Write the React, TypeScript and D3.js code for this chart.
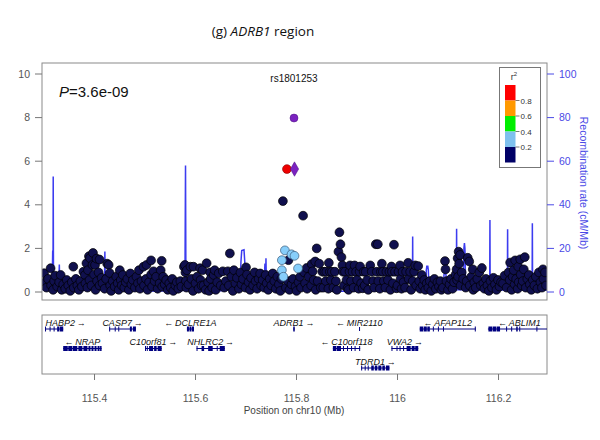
import React from 'react';
import * as d3 from 'd3';

const xDomain: [number, number] = [115.296, 116.296];
const leftTicks = [0, 2, 4, 6, 8, 10];
const rightTicks = [0, 20, 40, 60, 80, 100];
const xTicks = [115.4, 115.6, 115.8, 116.0, 116.2];
const xTickLabels = ['115.4', '115.6', '115.8', '116', '116.2'];

const navySnps: [number, number][] = [
  [115.300,0.86],[115.302,0.45],[115.305,0.2],[115.308,0.6],[115.313,1.09],[115.314,0.3],[115.318,0.1],[115.320,0.5],[115.322,0.75],[115.326,0.25],[115.330,0.45],[115.333,0.78],[115.335,0.1],
  [115.338,0.35],[115.342,0.15],[115.345,0.55],[115.348,0.3],[115.352,0.05],[115.355,0.45],[115.358,1.16],[115.359,0.2],[115.363,0.6],[115.366,0.3],[115.369,0.1],[115.372,0.5],[115.375,0.25],
  [115.378,0.93],[115.381,0.78],[115.382,0.4],[115.384,1.32],[115.386,0.2],[115.387,1.0],[115.389,1.64],[115.390,0.55],[115.391,1.55],[115.394,0.3],[115.397,1.79],[115.396,1.24],[115.399,0.8],[115.401,1.24],[115.402,0.1],[115.404,1.53],[115.405,0.5],[115.408,0.9],[115.410,1.49],[115.410,0.3],[115.414,0.65],
  [115.416,0.4],[115.420,0.15],[115.423,0.6],[115.425,1.3],[115.428,1.24],[115.430,0.87],[115.431,0.3],[115.433,0.05],[115.436,0.5],[115.440,0.25],[115.443,0.7],[115.446,0.4],[115.448,0.1],[115.450,1.0],[115.452,0.55],[115.454,0.3],
  [115.456,0.78],[115.459,0.2],[115.462,0.45],[115.465,0.6],[115.468,0.1],[115.471,0.85],[115.473,0.35],[115.476,0.55],[115.480,0.2],[115.483,0.7],[115.486,0.4],[115.488,1.0],[115.490,0.15],[115.493,0.5],
  [115.497,1.16],[115.498,0.3],[115.503,1.24],[115.502,0.6],[115.505,0.1],[115.508,0.45],[115.512,1.45],[115.512,0.8],[115.514,0.25],[115.517,0.95],[115.519,0.5],[115.522,0.7],[115.525,0.15],[115.529,0.4],[115.531,1.0],[115.533,1.43],[115.534,0.25],
  [115.536,0.7],[115.539,0.35],[115.542,0.55],[115.545,0.1],[115.548,0.4],[115.551,0.2],[115.554,0.6],[115.556,0.05],[115.560,0.3],[115.563,0.45],[115.566,0.15],[115.570,0.5],[115.572,0.25],
  [115.577,1.16],[115.579,1.24],[115.580,0.9],[115.581,0.5],[115.582,0.2],[115.583,1.0],[115.586,0.35],[115.590,1.16],[115.592,0.6],[115.595,0.05],[115.596,1.16],[115.600,0.4],[115.603,0.7],[115.606,0.15],[115.609,1.09],[115.610,0.55],[115.612,0.3],
  [115.614,1.0],[115.616,0.3],[115.620,0.1],[115.622,1.32],[115.625,0.45],[115.627,0.05],[115.629,0.9],[115.630,0.6],[115.633,0.2],[115.636,0.78],[115.638,1.0],[115.640,0.1],[115.643,0.45],[115.646,0.86],[115.650,0.3],
  [115.654,0.95],[115.657,0.2],[115.660,0.5],[115.668,1.77],[115.664,0.95],[115.666,0.3],[115.671,0.7],[115.674,0.05],[115.676,1.0],[115.679,0.4],[115.682,0.65],[115.686,0.15],[115.689,0.89],[115.691,0.35],
  [115.694,0.6],[115.700,1.13],[115.699,0.2],[115.702,0.8],[115.705,0.45],[115.708,0.1],[115.710,0.65],[115.714,0.3],[115.717,0.9],[115.719,0.5],[115.722,0.15],[115.725,0.6],[115.728,0.85],[115.730,0.3],
  [115.733,0.55],[115.736,0.2],[115.739,0.78],[115.741,0.4],[115.744,0.1],[115.747,0.6],[115.750,0.3],[115.753,0.85],[115.756,0.5],[115.759,0.15],[115.762,0.7],[115.765,0.35],[115.768,0.05],[115.770,0.6],
  [115.773,4.17],
  [115.779,0.2],[115.783,0.5],[115.784,1.46],[115.786,0.1],[115.790,0.35],[115.793,0.6],[115.798,0.25],[115.800,0.05],[115.804,0.45],[115.807,0.7],[115.809,0.2],
  [115.813,3.5],[115.815,0.9],[115.817,0.4],[115.820,1.1],[115.821,0.15],[115.824,0.7],[115.830,1.28],[115.829,0.3],[115.832,0.95],[115.834,0.55],[115.837,1.4],[115.838,0.1],[115.840,2.0],[115.842,0.5],[115.845,1.3],[115.848,0.2],
  [115.851,0.93],[115.853,0.2],[115.855,0.93],[115.858,0.5],[115.859,0.93],[115.864,1.34],[115.863,0.15],[115.866,0.93],[115.868,0.55],[115.870,0.93],[115.873,0.2],[115.876,0.93],[115.878,0.5],[115.880,0.1],[115.883,1.85],[115.885,2.74],[115.887,2.19],[115.889,1.6],[115.891,1.22],
  [115.892,0.93],[115.894,0.3],[115.896,0.93],[115.899,0.55],[115.901,0.17],[115.903,0.1],[115.905,0.93],[115.906,1.22],[115.908,0.5],[115.911,0.93],[115.913,0.2],[115.915,1.22],[115.918,0.93],[115.920,0.55],[115.923,0.15],[115.925,0.93],[115.926,1.17],[115.928,0.4],
  [115.931,0.17],[115.933,0.93],[115.935,0.3],[115.937,0.93],[115.940,0.55],[115.942,0.1],[115.946,1.22],[115.949,0.93],[115.952,0.5],[115.954,0.2],[115.957,2.19],[115.959,0.93],[115.961,2.19],[115.962,0.5],[115.965,0.15],[115.967,0.93],[115.969,1.3],
  [115.971,0.93],[115.973,0.5],[115.976,0.2],[115.978,0.93],[115.981,0.55],[115.984,0.93],[115.986,0.1],[115.988,1.17],[115.989,0.93],[115.991,0.4],[115.993,2.17],[115.995,0.93],[115.998,0.17],[116.000,0.3],[116.002,0.93],[116.005,1.22],[116.006,0.6],[116.008,0.15],
  [116.010,0.93],[116.012,0.45],[116.015,0.2],[116.017,0.93],[116.021,1.34],[116.022,0.6],[116.025,0.93],[116.027,0.1],[116.030,0.5],[116.033,0.93],[116.035,1.22],[116.037,0.3],[116.041,1.19],[116.043,0.5],[116.045,0.15],[116.048,0.78],
  [116.050,0.3],[116.053,0.55],[116.055,0.1],[116.058,0.4],[116.061,0.2],[116.064,0.5],[116.067,0.05],[116.070,0.35],[116.073,0.6],[116.076,0.15],[116.079,0.45],[116.082,0.25],[116.085,0.5],[116.087,0.1],
  [116.090,0.2],[116.094,1.42],[116.095,1.04],[116.097,0.5],[116.100,0.1],[116.103,0.35],[116.106,0.6],[116.109,0.15],[116.112,0.45],[116.115,0.8],[116.117,1.04],[116.118,0.55],[116.119,1.55],[116.120,0.7],[116.121,1.85],[116.122,1.3],[116.124,1.7],[116.125,0.3],[116.127,0.9],
  [116.130,0.6],[116.139,1.57],[116.142,1.4],[116.135,0.2],[116.137,0.5],[116.143,0.3],[116.146,0.7],[116.149,1.04],[116.150,0.1],[116.152,0.45],[116.155,0.2],[116.158,0.6],[116.162,0.9],[116.165,0.3],[116.167,1.1],
  [116.170,0.4],[116.172,0.15],[116.175,0.6],[116.178,0.3],[116.181,0.05],[116.184,0.5],[116.187,0.2],[116.190,0.65],[116.193,0.35],[116.196,0.1],[116.199,0.55],[116.202,0.25],[116.205,0.45],
  [116.209,0.4],[116.212,0.75],[116.216,0.2],[116.220,0.9],[116.222,0.55],[116.223,1.35],[116.226,0.1],[116.228,0.7],[116.230,1.0],[116.233,1.45],[116.232,0.35],[116.235,0.6],[116.238,0.15],[116.239,1.16],[116.240,0.45],[116.243,1.5],[116.244,0.8],[116.246,0.3],
  [116.248,0.5],[116.250,1.04],[116.252,1.6],[116.254,0.2],[116.257,0.6],[116.260,0.78],[116.262,0.35],[116.265,0.1],[116.268,0.55],[116.271,0.3],[116.274,0.7],[116.277,0.15],[116.280,0.9],[116.283,0.45],[116.286,0.2],[116.288,1.04],[116.289,0.6],[116.292,0.9],[116.294,0.3],
];

const lightBlueSnps: [number, number][] = [
  [115.777,1.91],[115.771,1.46],[115.771,1.0],[115.774,0.70],[115.790,1.73],[115.796,1.66],[115.803,1.08],
];
const redSnps: [number, number][] = [[115.781, 5.64]];
const leadSnp: [number, number] = [115.795, 7.98];
const leadProxy: [number, number] = [115.796, 5.64];
const leadName = 'rs1801253';
const pLabel = '3.6e-09';

const recomb: [number, number][] = [
  [115.296,1.2],[115.305,0.8],[115.312,1.0],[115.316,1.5],[115.3172,19],[115.3178,1.5],[115.3182,53],[115.3188,2],[115.322,1.2],[115.329,1.0],[115.3303,12.6],[115.3313,1.0],
  [115.340,0.8],[115.350,1.5],[115.360,1.0],[115.3635,8],[115.3645,1.0],[115.375,0.6],[115.390,1.2],[115.405,0.8],[115.4195,1.0],[115.4205,18.6],[115.4215,1.0],
  [115.440,0.5],[115.460,0.8],[115.480,0.5],[115.500,0.7],[115.520,0.4],[115.540,0.6],[115.560,0.5],[115.579,0.8],[115.5802,58],[115.581,2],[115.590,1.5],
  [115.610,1.0],[115.630,0.8],[115.650,0.6],[115.670,0.9],[115.688,1.0],[115.690,14],[115.6915,19],[115.696,19.4],[115.6975,14],[115.699,1.0],[115.715,0.8],
  [115.735,1.0],[115.7375,13],[115.7385,1.0],[115.7395,15.5],[115.7405,1.0],[115.755,0.8],[115.770,1.2],[115.790,1.0],[115.810,0.8],[115.832,1.0],[115.834,5.5],
  [115.836,2],[115.838,5.5],[115.840,1.0],[115.850,0.5],[115.880,0.3],[115.910,0.5],[115.940,0.4],[115.970,0.5],[116.000,0.8],[116.020,0.6],[116.0295,1.0],
  [116.030,25.5],[116.0305,1.0],[116.045,0.8],[116.0555,1.0],[116.057,10],[116.058,11.8],[116.060,11.8],[116.061,10],[116.0625,1.0],[116.080,0.8],[116.0905,1.0],
  [116.092,8],[116.094,9],[116.096,8],[116.0975,1.0],[116.110,0.9],[116.1165,1.0],[116.117,29],[116.1175,1.0],[116.130,1.0],[116.1315,20],[116.1325,22.5],
  [116.1335,20],[116.135,1.0],[116.160,0.8],[116.1825,1.0],[116.183,33],[116.1835,1.0],[116.200,0.8],[116.2175,1.0],[116.218,28.8],[116.2185,1.0],[116.240,0.9],
  [116.2665,1.0],[116.267,31.5],[116.2675,1.0],[116.296,0.8],
];

type Gene = { name: string; start: number; end: number; strand: 1 | -1; row: number; exons: [number, number][] };
const genes: Gene[] = [
  { name: 'HABP2', start: 115.302, end: 115.338, strand: 1, row: 0, exons: [[115.302,115.3035],[115.311,115.3125],[115.319,115.3205],[115.326,115.330],[115.331,115.338]] },
  { name: 'NRAP', start: 115.338, end: 115.414, strand: -1, row: 1, exons: [[115.338,115.347],[115.348,115.356],[115.357,115.366],[115.368,115.376],[115.378,115.386],[115.388,115.392],[115.394,115.398],[115.400,115.404],[115.406,115.410],[115.411,115.414]] },
  { name: 'CASP7', start: 115.429, end: 115.482, strand: 1, row: 0, exons: [[115.429,115.4305],[115.440,115.4415],[115.447,115.4485],[115.470,115.474],[115.476,115.482]] },
  { name: 'C10orf81', start: 115.500, end: 115.533, strand: 1, row: 1, exons: [[115.500,115.5015],[115.5035,115.505],[115.508,115.516],[115.518,115.523],[115.525,115.533]] },
  { name: 'DCLRE1A', start: 115.583, end: 115.597, strand: -1, row: 0, exons: [[115.583,115.587],[115.588,115.592],[115.593,115.597]] },
  { name: 'NHLRC2', start: 115.602, end: 115.658, strand: 1, row: 1, exons: [[115.602,115.6035],[115.612,115.617],[115.625,115.634],[115.642,115.6435],[115.648,115.658]] },
  { name: 'ADRB1', start: 115.7935, end: 115.7965, strand: 1, row: 0, exons: [[115.7935,115.7965]] },
  { name: 'MIR2110', start: 115.9238, end: 115.9245, strand: -1, row: 0, exons: [[115.9238,115.9245]] },
  { name: 'C10orf118', start: 115.872, end: 115.926, strand: -1, row: 1, exons: [[115.872,115.879],[115.880,115.888],[115.892,115.8935],[115.900,115.9015],[115.908,115.9095],[115.915,115.9165],[115.924,115.926]] },
  { name: 'TDRD1', start: 115.928, end: 115.984, strand: 1, row: 2, exons: [[115.928,115.9295],[115.935,115.9365],[115.941,115.9425],[115.948,115.953],[115.955,115.960],[115.962,115.968],[115.970,115.975],[115.977,115.984]] },
  { name: 'VWA2', start: 115.988, end: 116.041, strand: 1, row: 1, exons: [[115.988,115.9895],[115.998,115.9995],[116.004,116.0055],[116.011,116.0125],[116.018,116.026],[116.028,116.034],[116.035,116.041]] },
  { name: 'AFAP1L2', start: 116.044, end: 116.155, strand: -1, row: 0, exons: [[116.044,116.051],[116.052,116.058],[116.059,116.064],[116.070,116.0715],[116.080,116.0815],[116.090,116.0915],[116.153,116.155]] },
  { name: 'ABLIM1', start: 116.179, end: 116.54, strand: -1, row: 0, exons: [[116.180,116.188],[116.189,116.196],[116.197,116.203],[116.215,116.217],[116.225,116.227],[116.235,116.238],[116.241,116.243],[116.275,116.277]] },
];

const legendColors = ['#FF0000', '#FF9900', '#00EE00', '#7EC0EE', '#000066'];
const legendBreaks = ['0.8', '0.6', '0.4', '0.2'];

const NAVY = '#10104e';
const LIGHTBLUE = '#87CEFA';
const RED = '#EE0000';
const PURPLE = '#7B22C0';
const RECOMB = '#3c3cf0';
const AXIS_BLUE = '#4a4ae6';
const SANS = '"Liberation Sans", Arial, Helvetica, sans-serif';

export default function App() {
  const L = 42, R = 547;
  const x = d3.scaleLinear().domain(xDomain).range([L, R]);
  const y = d3.scaleLinear().domain([0, 10]).range([292, 74]);
  const yr = d3.scaleLinear().domain([0, 100]).range([292, 74]);
  const plotTop = 63, plotBottom = 300;
  const geneTop = 315, geneBottom = 374;
  const rowY = [329, 348.5, 368];

  const recombLine = d3.line<[number, number]>().x(d => x(d[0])).y(d => yr(d[1]))(recomb) || '';

  const geneEls = genes.map((g, i) => {
    const gy = rowY[g.row];
    const x0 = Math.max(L, x(g.start));
    const x1 = Math.min(R, x(g.end));
    const label = g.strand === 1 ? `${g.name}\u2009\u2192` : `\u2190\u2009${g.name}`;
    const estW = label.length * 5.9;
    let cx = (x(g.start) + x(g.end)) / 2;
    if (cx - estW / 2 < L + 3) cx = L + 3 + estW / 2;
    if (cx + estW / 2 > R - 4) cx = R - 4 - estW / 2;
    return (
      <g key={i}>
        <line x1={x0} x2={x1} y1={gy} y2={gy} stroke="#000080" strokeWidth={1} />
        {g.exons.map((e, j) => {
          const ex0 = Math.max(L, x(e[0]));
          const ex1 = Math.min(R, x(e[1]));
          if (ex1 <= ex0 - 1) return null;
          const h = g.name === 'MIR2110' ? 4 : 5;
          return <rect key={j} x={ex0} y={gy - h / 2} width={Math.max(1, ex1 - ex0)} height={h} fill="#000080" />;
        })}
        <text x={cx} y={gy - 3.5} textAnchor="middle" fontSize={9} fontStyle="italic" fontFamily={SANS} fill="#111">{label}</text>
      </g>
    );
  });

  const legX = 505, legTop = 85, blockH = 15.5, blockW = 10.5;

  return (
    <svg width={600} height={440} style={{ position: 'absolute', left: 0, top: 0, background: '#fff' }} fontFamily={SANS}>
      <rect x={0} y={0} width={600} height={440} fill="#fff" />
      <text x={263} y={36} textAnchor="middle" fontSize={13.5} fontFamily='"Open Sans", sans-serif' fill="#111">
        (g) <tspan fontStyle="italic">ADRB1</tspan> region
      </text>

      <defs>
        <clipPath id="plotclip"><rect x={L} y={plotTop} width={R - L} height={plotBottom - plotTop} /></clipPath>
      </defs>
      <path d={recombLine} fill="none" stroke={RECOMB} strokeWidth={1.5} clipPath="url(#plotclip)" />

      <g clipPath="url(#plotclip)">
        {navySnps.map((d, i) => (
          <circle key={'n' + i} cx={x(d[0])} cy={y(d[1])} r={4.4} fill={NAVY} stroke="#000" strokeWidth={0.7} />
        ))}
        {lightBlueSnps.map((d, i) => (
          <circle key={'l' + i} cx={x(d[0])} cy={y(d[1])} r={4.4} fill={LIGHTBLUE} stroke="#3a5a7a" strokeWidth={0.7} />
        ))}
        {redSnps.map((d, i) => (
          <circle key={'r' + i} cx={x(d[0])} cy={y(d[1])} r={4.4} fill={RED} stroke="#8a0000" strokeWidth={0.6} />
        ))}
        <path d={d3.symbol().type(d3.symbolDiamond).size(60)() || ''} transform={`translate(${x(leadProxy[0])},${y(leadProxy[1])})`} fill={PURPLE} stroke="#4a1080" strokeWidth={0.5} />
        <circle cx={x(leadSnp[0])} cy={y(leadSnp[1])} r={4} fill={PURPLE} stroke="#4a1080" strokeWidth={0.5} />
      </g>

      <rect x={L} y={plotTop} width={R - L} height={plotBottom - plotTop} fill="none" stroke="#8a8a8a" strokeWidth={1} />

      {leftTicks.map(t => (
        <g key={'lt' + t}>
          <line x1={35} x2={L} y1={y(t)} y2={y(t)} stroke="#777" strokeWidth={1} />
          <text x={30} y={y(t) + 3.6} textAnchor="end" fontSize={10.5} fill="#555">{t}</text>
        </g>
      ))}
      {rightTicks.map(t => (
        <g key={'rt' + t}>
          <line x1={R} x2={R + 7} y1={yr(t)} y2={yr(t)} stroke={AXIS_BLUE} strokeWidth={1} />
          <text x={559} y={yr(t) + 3.6} textAnchor="start" fontSize={10.5} fill={AXIS_BLUE}>{t}</text>
        </g>
      ))}
      <text transform="translate(580,183) rotate(90)" textAnchor="middle" fontSize={10.5} fill={AXIS_BLUE}>Recombination rate (cM/Mb)</text>

      <text x={59} y={97} fontSize={15} fill="#111">
        <tspan fontStyle="italic">P</tspan>={pLabel}
      </text>
      <text x={x(leadSnp[0])} y={82} textAnchor="middle" fontSize={10} fill="#111">{leadName}</text>

      <rect x={499.5} y={67.5} width={41} height={100} fill="#fff" stroke="#777" strokeWidth={1} />
      <text x={514} y={80} textAnchor="middle" fontSize={9} fill="#333">r<tspan dy={-4} fontSize={6}>2</tspan></text>
      {legendColors.map((c, i) => (
        <rect key={'lc' + i} x={legX} y={legTop + i * blockH} width={blockW} height={blockH} fill={c} />
      ))}
      {legendBreaks.map((b, i) => {
        const by = legTop + (i + 1) * blockH;
        return (
          <g key={'lb' + i}>
            <line x1={legX + blockW} x2={legX + blockW + 4} y1={by} y2={by} stroke="#555" strokeWidth={0.8} />
            <text x={legX + blockW + 5} y={by + 3} fontSize={8} fill="#333">{b}</text>
          </g>
        );
      })}

      <rect x={L} y={geneTop} width={R - L} height={geneBottom - geneTop} fill="none" stroke="#8a8a8a" strokeWidth={1} />
      <defs>
        <clipPath id="geneclip"><rect x={L} y={geneTop} width={R - L} height={geneBottom - geneTop} /></clipPath>
      </defs>
      <g clipPath="url(#geneclip)">{geneEls}</g>

      {xTicks.map((t, i) => (
        <g key={'xt' + i}>
          <line x1={x(t)} x2={x(t)} y1={geneBottom} y2={geneBottom + 6} stroke="#777" strokeWidth={1} />
          <text x={x(t)} y={402} textAnchor="middle" fontSize={10.5} fill="#555">{xTickLabels[i]}</text>
        </g>
      ))}
      <text x={294} y={414} textAnchor="middle" fontSize={10} fill="#444">Position on chr10 (Mb)</text>
    </svg>
  );
}
